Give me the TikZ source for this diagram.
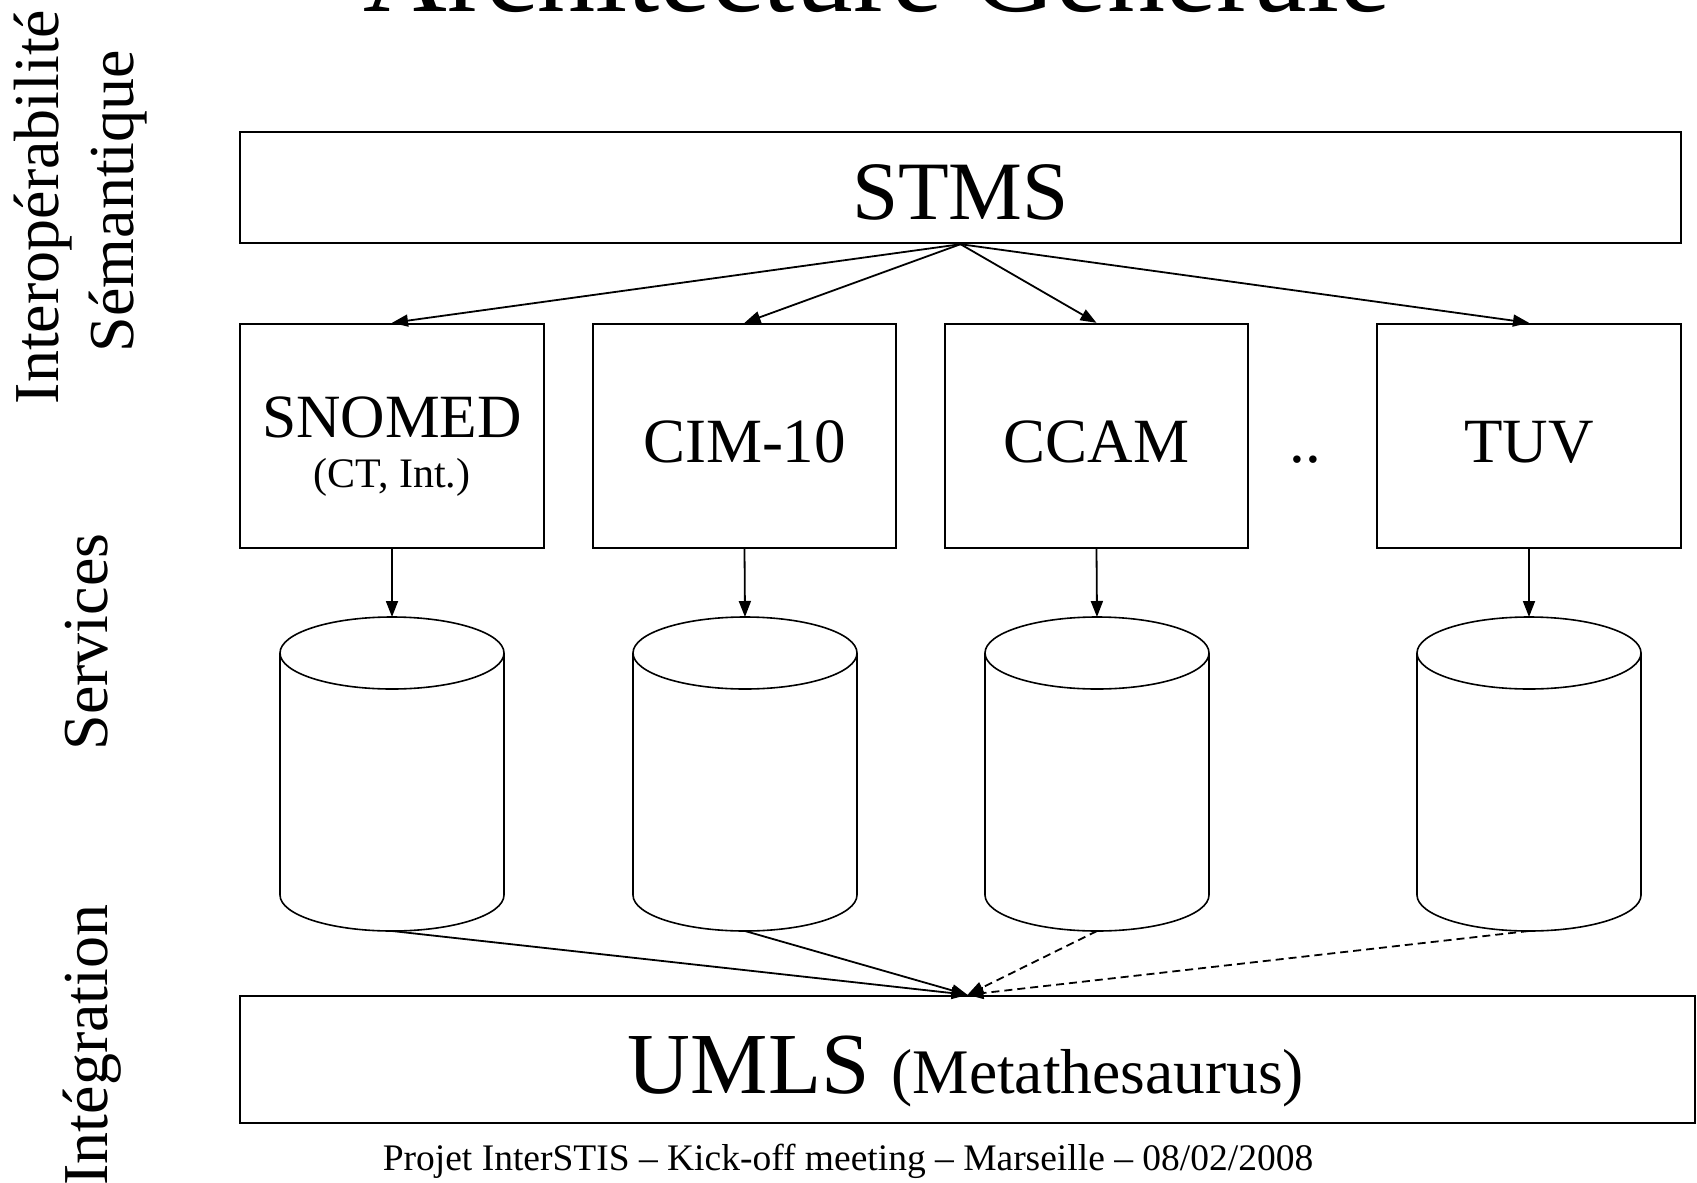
\documentclass[tikz,border=0pt]{standalone}
\usepackage{fontspec}
\setmainfont{Liberation Serif}
\usetikzlibrary{arrows.meta}
\newcommand{\fsz}[1]{\fontsize{#1}{#1}\selectfont}
\tikzset{
  box/.style={draw, line width=2.4pt, rectangle, inner sep=0pt},
  arr/.style={line width=1.8pt, -{Triangle[length=16pt,width=12pt]}},
  darr/.style={arr, dash pattern=on 8pt off 5pt},
  cyl/.style={line width=1.6pt},
  txt/.style={anchor=base, inner sep=0pt},
  side/.style={anchor=base, inner sep=0pt, rotate=90, font=\fsz{64}}
}
\begin{document}
\begin{tikzpicture}[x=1pt,y=-1pt]
\useasboundingbox (0,0) rectangle (1697,1183);
\clip (0,0) rectangle (1697,1183);
\fill[white] (0,0) rectangle (1697,1183);

% title (cut by the top edge)
\node[txt, font=\fsz{116}] (title) at (877,11) {Architecture Générale};

% side labels
\node[side] (interop) at (58,207) {Interopérabilité};
\node[side] (seman) at (133,201) {Sémantique};
\node[side] (serv) at (107,642) {Services};
\node[side] (integ) at (107,1045) {Intégration};

% STMS
\node[box, minimum width=1441pt, minimum height=111pt] (stms) at (960.5,187.5) {};
\node[txt, font=\fsz{83}] (stmst) at (960.5,219) {STMS};

% terminology boxes
\node[box, minimum width=304pt, minimum height=224pt] (snomed) at (392,436) {};
\node[box, minimum width=303pt, minimum height=224pt] (cim) at (744.5,436) {};
\node[box, minimum width=303pt, minimum height=224pt] (ccam) at (1096.5,436) {};
\node[box, minimum width=304pt, minimum height=224pt] (tuv) at (1529,436) {};

\node[txt, font=\fsz{61.5}] (snomedt) at (392,437) {SNOMED};
\node[txt, font=\fsz{42}] (snomeds) at (392,487) {(CT, Int.)};
\node[txt, font=\fsz{63}] (cimt) at (744.5,462) {CIM-10};
\node[txt, font=\fsz{63}] (ccamt) at (1096.5,462) {CCAM};
\node[txt, font=\fsz{63}] (tuvt) at (1529,462) {TUV};
\node[txt, font=\fsz{63}] (dots) at (1305,462) {..};

% cylinders
\foreach \n/\cx in {c1/392, c2/745, c3/1097, c4/1529}{
  \draw[cyl] (\cx,653) ellipse [x radius=112, y radius=36];
  \draw[cyl] (\cx-112,653) -- (\cx-112,895)
        arc[start angle=180, end angle=0, x radius=112, y radius=36]
        -- (\cx+112,653);
  \coordinate (\n t) at (\cx,617);
  \coordinate (\n b) at (\cx,931);
}

% UMLS
\node[box, minimum width=1455pt, minimum height=127pt] (umls) at (967.5,1059.5) {};
\node[txt] (umlst) at (966,1093) {\fsz{87}UMLS {\fsz{63.5}(Metathesaurus)}};

% footer
\node[txt, font=\fsz{37.5}] (footer) at (848,1170)
  {Projet InterSTIS – Kick-off meeting – Marseille – 08/02/2008};

% arrows STMS -> boxes
\draw[arr] (stms.south) -- (snomed.north);
\draw[arr] (stms.south) -- (cim.north);
\draw[arr] (stms.south) -- (ccam.north);
\draw[arr] (stms.south) -- (tuv.north);

% boxes -> cylinders
\draw[arr] (snomed.south) -- (c1t);
\draw[arr] (cim.south) -- (c2t);
\draw[arr] (ccam.south) -- (c3t);
\draw[arr] (tuv.south) -- (c4t);

% cylinders -> UMLS
\draw[arr] (c1b) -- (umls.north);
\draw[arr] (c2b) -- (umls.north);
\draw[darr] (c3b) -- (umls.north);
\draw[darr] (c4b) -- (umls.north);
\end{tikzpicture}
\end{document}
